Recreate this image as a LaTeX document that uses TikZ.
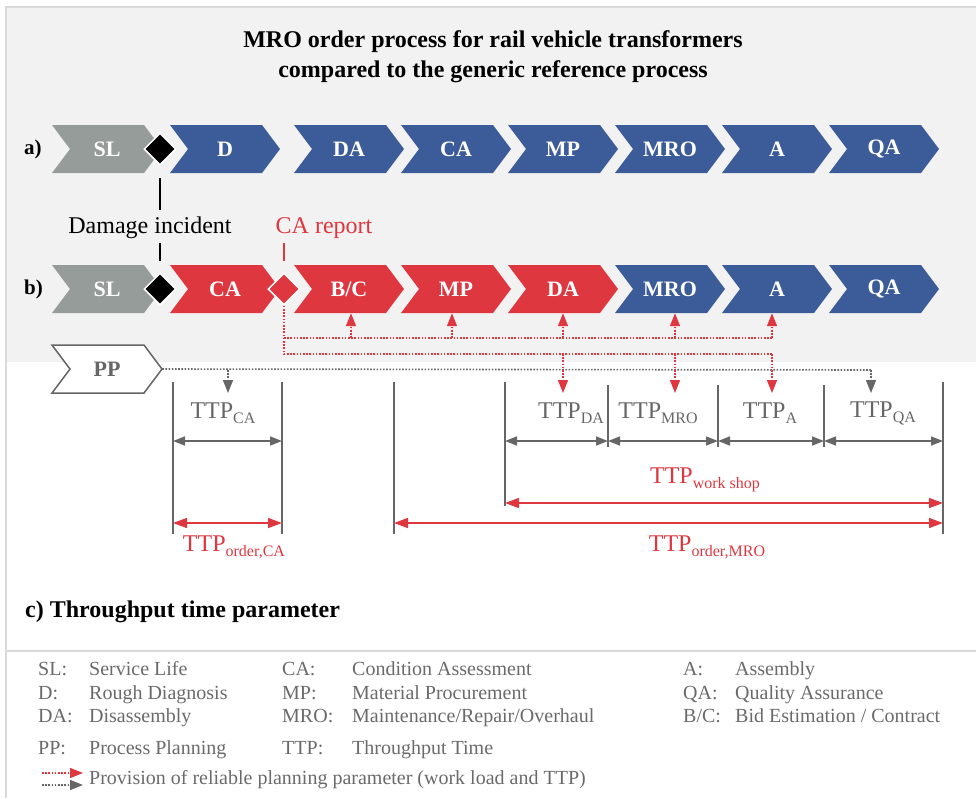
\documentclass[tikz,border=0pt]{standalone}
\usepackage{fontspec}
\setmainfont{Liberation Serif}
\usetikzlibrary{shapes.geometric,arrows.meta,calc}
\definecolor{bgg}{HTML}{F2F2F2}
\definecolor{frm}{HTML}{D9D9D9}
\definecolor{blu}{HTML}{3B5B99}
\definecolor{rd}{HTML}{DE3740}
\definecolor{slg}{HTML}{959C9A}
\definecolor{dg}{HTML}{666666}
\definecolor{lg}{HTML}{6A6A6A}
\newcommand\chev[6]{%
  \path[#4] (#2,#3-24) -- (#2+92,#3-24) -- (#2+110,#3) -- (#2+92,#3+24) -- (#2,#3+24) -- (#2+18,#3) -- cycle;
  \node[chevtext,text=#5] (#1) at (#2+55,#3) {#6};
}
\newcommand\tsub[1]{\raisebox{-5pt}{\fontsize{16}{16}\selectfont #1}}
\begin{document}
\begin{tikzpicture}[x=1pt,y=-1pt,
  chevtext/.style={font=\fontsize{22}{24}\selectfont\bfseries,inner sep=0pt,minimum width=110pt,minimum height=48pt},
  dmd/.style={diamond,draw=white,line width=1.5pt,minimum size=32pt,inner sep=0pt},
  lbl/.style={font=\fontsize{24}{26}\selectfont,inner sep=1pt},
  leg/.style={font=\fontsize{20}{22}\selectfont,text=lg,anchor=base west,inner sep=0pt},
  reddot/.style={draw=rd,line width=1.6pt,dash pattern=on 1.6pt off 1.6pt},
  graydot/.style={draw=dg,line width=1.6pt,dash pattern=on 1.6pt off 1.6pt},
  rtip/.style={-{Triangle[length=13pt,width=10pt]}},
  dimg/.style={draw=dg,line width=1.5pt,{Triangle[length=12pt,width=9pt]}-{Triangle[length=12pt,width=9pt]}},
  dimr/.style={draw=rd,line width=1.5pt,{Triangle[length=14pt,width=10pt]}-{Triangle[length=14pt,width=10pt]}},
  vline/.style={draw=dg,line width=1.8pt}
]
\useasboundingbox (0,0) rectangle (976,798);
% background and frame
\fill[bgg] (7,8) rectangle (976,362);
\draw[frm,line width=1.5pt] (6,798) -- (6,7) -- (976,7);
\draw[frm,line width=2pt] (7,651) -- (976,651);
% title
\node[font=\fontsize{24}{30}\selectfont\bfseries,align=center] (title) at (493,57)
  {MRO order process for rail vehicle transformers\\compared to the generic reference process};
% row labels
\node[font=\fontsize{21}{24}\selectfont\bfseries,anchor=west,inner sep=0pt] (la) at (24,149) {a)};
\node[font=\fontsize{21}{24}\selectfont\bfseries,anchor=west,inner sep=0pt] (lb) at (24,289) {b)};
% row a
\chev{aSL}{52}{149}{fill=slg}{white}{SL}
\chev{aD}{170}{149}{fill=blu}{white}{D}
\chev{aDA}{294}{149}{fill=blu}{white}{DA}
\chev{aCA}{401}{149}{fill=blu}{white}{CA}
\chev{aMP}{508}{149}{fill=blu}{white}{MP}
\chev{aMRO}{615}{149}{fill=blu}{white}{MRO}
\chev{aA}{722}{149}{fill=blu}{white}{A}
\chev{aQA}{829}{149}{fill=blu}{white}{QA}
% row b
\chev{bSL}{52}{289}{fill=slg}{white}{SL}
\chev{bCA}{170}{289}{fill=rd}{white}{CA}
\chev{bBC}{294}{289}{fill=rd}{white}{B/C}
\chev{bMP}{401}{289}{fill=rd}{white}{MP}
\chev{bDA}{508}{289}{fill=rd}{white}{DA}
\chev{bMRO}{615}{289}{fill=blu}{white}{MRO}
\chev{bA}{722}{289}{fill=blu}{white}{A}
\chev{bQA}{829}{289}{fill=blu}{white}{QA}
% PP
\chev{pp}{52}{369}{draw=dg,fill=white,line width=1.5pt}{dg}{PP}
% diamonds
\node[dmd,fill=black] (da) at (160,149) {};
\node[dmd,fill=black] (db) at (160,289) {};
\node[dmd,fill=rd] (rdm) at (284,289) {};
% damage incident
\node[lbl] (dmg) at (150,228) {Damage incident};
\draw[line width=1.5pt,shorten <=12pt,shorten >=6pt] (da.south) -- (da.south |- dmg.north);
\draw[line width=1.5pt,shorten <=3pt,shorten >=11pt] (da.south |- dmg.south) -- (db.north);
% CA report
\node[lbl,text=rd] (carep) at (324,228) {CA report};
\draw[rd,line width=1.5pt,shorten <=3pt,shorten >=11pt] (rdm.north |- carep.south) -- (rdm.north);
% red dotted provision network
\coordinate (r0) at (284,338);
\coordinate (r1) at (284,354);
\coordinate (uBC) at (351,338);
\coordinate (uMP) at (452,338);
\coordinate (uDA) at (563,338);
\coordinate (uMRO) at (675,338);
\coordinate (uA) at (772,338);
\coordinate (dDA) at (563,354);
\coordinate (dMRO) at (675,354);
\coordinate (dA) at (772,354);
\coordinate (eDA) at (563,393);
\coordinate (eMRO) at (675,393);
\coordinate (eA) at (772,393);
\draw[reddot] (rdm.south) -- (r1) -- (dA);
\draw[reddot] (r0) -- (uA);
\foreach \u/\c in {uBC/bBC,uMP/bMP,uDA/bDA,uMRO/bMRO,uA/bA}{
  \draw[reddot,rtip,fill=rd] (\u) -- (\u |- \c.south);
}
% gray dotted PP line
\coordinate (gQA) at (871,370);
\coordinate (gCA) at (228,370);
\coordinate (hQA) at (871,393);
\coordinate (hCA) at (228,393);
\draw[graydot] (pp.east) -- (gQA);
\draw[graydot,rtip,fill=dg] (gQA) -- (hQA);
\draw[graydot,rtip,fill=dg] (gCA) -- (hCA);
\foreach \a/\b in {dDA/eDA,dMRO/eMRO,dA/eA}{
  \draw[reddot,rtip,fill=rd] (\a) -- (\b);
}
% dimension lines
\foreach \n/\x/\a/\b in {1/173/382/534,2/282/382/534,3/394/382/534,4/505/382/506,5/608/385/447,6/718/385/447,7/824/385/447,8/943/382/534}{
  \coordinate (t\n) at (\x,\a);
  \coordinate (b\n) at (\x,\b);
  \coordinate (m\n) at (\x,441);
  \coordinate (w\n) at (\x,503);
  \coordinate (o\n) at (\x,523);
}
\foreach \n in {1,...,8}{\draw[vline] (t\n) -- (b\n);}
\draw[dimg] (m1) -- (m2);
\draw[dimg] (m4) -- (m5);
\draw[dimg] (m5) -- (m6);
\draw[dimg] (m6) -- (m7);
\draw[dimg] (m7) -- (m8);
\draw[dimr] (w4) -- (w8);
\draw[dimr] (o1) -- (o2);
\draw[dimr] (o3) -- (o8);
% TTP labels
\node[lbl,text=dg] (tca) at (223,413) {TTP\tsub{CA}};
\node[lbl,text=dg] (tda) at (571,413) {TTP\tsub{DA}};
\node[lbl,text=dg] (tmro) at (658,413) {TTP\tsub{MRO}};
\node[lbl,text=dg] (ta) at (770,413) {TTP\tsub{A}};
\node[lbl,text=dg] (tqa) at (883,413) {TTP\tsub{QA}};
\node[lbl,text=rd] (tws) at (705,480) {TTP\tsub{work shop}};
\node[lbl,text=rd] (toca) at (234,547) {TTP\tsub{order,CA}};
\node[lbl,text=rd] (tomro) at (707,547) {TTP\tsub{order,MRO}};
% c) heading
\node[font=\fontsize{24}{26}\selectfont\bfseries,anchor=west,inner sep=0pt] (ctitle) at (25,612) {c) Throughput time parameter};
% legend
\node[leg] (k1) at (38,675) {SL:};
\node[leg] (v1) at (89,675) {Service Life};
\node[leg] (k2) at (38,699) {D:};
\node[leg] (v2) at (89,699) {Rough Diagnosis};
\node[leg] (k3) at (38,722) {DA:};
\node[leg] (v3) at (89,722) {Disassembly};
\node[leg] (k4) at (38,754) {PP:};
\node[leg] (v4) at (89,754) {Process Planning};
\node[leg] (k5) at (282,675) {CA:};
\node[leg] (v5) at (352,675) {Condition Assessment};
\node[leg] (k6) at (282,699) {MP:};
\node[leg] (v6) at (352,699) {Material Procurement};
\node[leg] (k7) at (282,722) {MRO:};
\node[leg] (v7) at (352,722) {Maintenance/Repair/Overhaul};
\node[leg] (k8) at (282,754) {TTP:};
\node[leg] (v8) at (352,754) {Throughput Time};
\node[leg] (k9) at (683,675) {A:};
\node[leg] (v9) at (735,675) {Assembly};
\node[leg] (k10) at (683,699) {QA:};
\node[leg] (v10) at (735,699) {Quality Assurance};
\node[leg] (k11) at (683,722) {B/C:};
\node[leg] (v11) at (735,722) {Bid Estimation / Contract};
\coordinate (lr0) at (42,773);
\coordinate (lr1) at (83,773);
\coordinate (lg0) at (42,785);
\coordinate (lg1) at (83,785);
\draw[reddot,rtip,fill=rd] (lr0) -- (lr1);
\draw[graydot,rtip,fill=dg] (lg0) -- (lg1);
\node[leg] (v12) at (89,784) {Provision of reliable planning parameter (work load and TTP)};
\end{tikzpicture}
\end{document}
